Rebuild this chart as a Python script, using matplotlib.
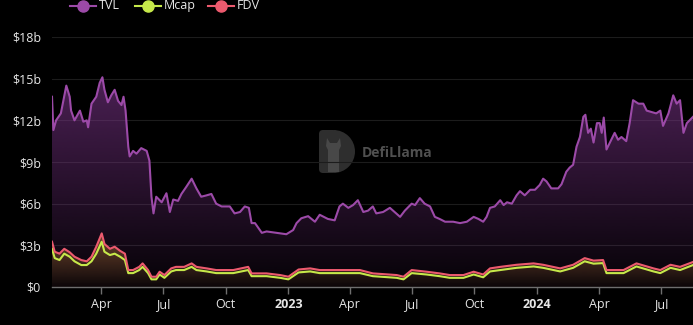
import numpy as np
import pandas as pd
import matplotlib
matplotlib.use("Agg")
import matplotlib.pyplot as plt
import matplotlib.dates as mdates
from matplotlib.patches import Polygon, Wedge, FancyBboxPatch
from matplotlib.colors import to_rgb

plt.rcParams['font.family'] = ['Open Sans', 'DejaVu Sans']

# ---------------- data (values in $ billions) ----------------
tvl_dates = [
    "2022-01-19", "2022-01-21", "2022-01-25", "2022-02-01", "2022-02-09", "2022-02-14", "2022-02-16",
    "2022-02-21", "2022-03-01", "2022-03-06", "2022-03-11", "2022-03-13", "2022-03-18", "2022-03-25",
    "2022-03-30", "2022-04-03", "2022-04-06", "2022-04-11", "2022-04-16", "2022-04-21", "2022-04-26",
    "2022-05-01", "2022-05-04", "2022-05-07", "2022-05-11", "2022-05-13", "2022-05-18", "2022-05-23",
    "2022-05-30", "2022-06-07", "2022-06-11", "2022-06-14", "2022-06-17", "2022-06-21", "2022-06-29",
    "2022-07-06", "2022-07-11", "2022-07-16", "2022-07-23", "2022-07-28", "2022-08-04", "2022-08-12",
    "2022-08-19", "2022-08-26", "2022-09-03", "2022-09-10", "2022-09-17", "2022-09-25", "2022-10-07",
    "2022-10-14", "2022-10-22", "2022-10-29", "2022-11-04", "2022-11-08", "2022-11-13", "2022-11-23",
    "2022-11-30", "2022-12-15", "2022-12-29", "2023-01-08", "2023-01-13", "2023-01-20", "2023-01-30",
    "2023-02-09", "2023-02-16", "2023-02-28", "2023-03-10", "2023-03-17", "2023-03-22", "2023-03-30",
    "2023-04-06", "2023-04-13", "2023-04-21", "2023-04-28", "2023-05-05", "2023-05-10", "2023-05-20",
    "2023-05-30", "2023-06-06", "2023-06-14", "2023-06-21", "2023-07-01", "2023-07-06", "2023-07-13",
    "2023-07-20", "2023-07-28", "2023-08-04", "2023-08-11", "2023-08-19", "2023-08-31", "2023-09-10",
    "2023-09-20", "2023-09-30", "2023-10-07", "2023-10-14", "2023-10-19", "2023-10-24", "2023-10-31",
    "2023-11-08", "2023-11-13", "2023-11-18", "2023-11-25", "2023-12-02", "2023-12-07", "2023-12-14",
    "2023-12-22", "2023-12-29", "2024-01-05", "2024-01-10", "2024-01-15", "2024-01-22", "2024-02-01",
    "2024-02-06", "2024-02-13", "2024-02-18", "2024-02-23", "2024-02-28", "2024-03-04", "2024-03-09",
    "2024-03-12", "2024-03-16", "2024-03-20", "2024-03-24", "2024-03-29", "2024-04-02", "2024-04-05",
    "2024-04-08", "2024-04-12", "2024-04-17", "2024-04-24", "2024-04-29", "2024-05-04", "2024-05-11",
    "2024-05-16", "2024-05-21", "2024-05-29", "2024-06-05", "2024-06-10", "2024-06-17", "2024-06-24",
    "2024-06-30", "2024-07-04", "2024-07-12", "2024-07-19", "2024-07-24", "2024-07-29", "2024-08-03",
    "2024-08-08", "2024-08-13", "2024-08-17",
]
tvl_values = [
    13.7, 11.3, 12.0, 12.5, 14.5, 13.7, 12.7,
    12.0, 12.7, 11.9, 12.0, 11.5, 13.2, 13.7,
    14.7, 15.1, 14.2, 13.3, 13.8, 14.2, 13.4,
    13.1, 13.7, 12.7, 10.1, 9.4, 9.8, 9.6,
    10.0, 9.8, 9.1, 6.5, 5.3, 6.5, 6.1,
    6.75, 5.4, 6.3, 6.2, 6.7, 7.2, 7.8,
    7.1, 6.5, 6.6, 6.7, 6.0, 5.8, 5.8,
    5.3, 5.4, 5.8, 5.7, 4.6, 4.6, 3.9,
    4.0, 3.9, 3.8, 4.1, 4.6, 4.95, 5.1,
    4.7, 5.2, 4.9, 4.8, 5.8, 6.0, 5.7,
    5.9, 6.25, 5.4, 5.5, 5.8, 5.3, 5.4,
    5.7, 5.4, 5.05, 5.5, 6.0, 5.9, 6.4,
    6.0, 5.8, 5.05, 4.9, 4.7, 4.7, 4.6,
    4.7, 5.05, 4.9, 4.7, 5.05, 5.7, 5.8,
    6.25, 5.9, 6.1, 6.0, 6.6, 6.9, 6.6,
    7.0, 7.0, 7.35, 7.8, 7.6, 7.1, 7.1,
    7.4, 8.3, 8.6, 8.8, 10.1, 10.8, 12.25,
    12.4, 11.1, 11.4, 10.4, 11.8, 11.8, 11.1,
    12.2, 9.9, 10.4, 11.1, 10.6, 10.8, 10.5,
    11.8, 13.45, 13.2, 13.2, 12.7, 12.6, 12.5,
    12.7, 11.6, 12.5, 13.8, 13.2, 13.45, 11.1,
    11.8, 12.05, 12.25,
]

tok_dates = [
    "2022-01-19", "2022-01-23", "2022-01-30", "2022-02-06", "2022-02-14", "2022-02-21", "2022-03-03",
    "2022-03-11", "2022-03-18", "2022-03-25", "2022-04-02", "2022-04-06", "2022-04-14", "2022-04-21",
    "2022-04-29", "2022-05-06", "2022-05-11", "2022-05-18", "2022-05-27", "2022-06-01", "2022-06-09",
    "2022-06-14", "2022-06-21", "2022-06-26", "2022-07-03", "2022-07-13", "2022-07-20", "2022-08-01",
    "2022-08-12", "2022-08-19", "2022-09-03", "2022-09-17", "2022-10-12", "2022-11-03", "2022-11-08",
    "2022-11-30", "2022-12-20", "2023-01-01", "2023-01-16", "2023-02-02", "2023-02-16", "2023-03-08",
    "2023-04-01", "2023-04-16", "2023-05-05", "2023-06-09", "2023-06-19", "2023-07-01", "2023-07-23",
    "2023-08-11", "2023-08-26", "2023-09-15", "2023-09-30", "2023-10-14", "2023-10-24", "2023-11-08",
    "2023-12-02", "2023-12-27", "2024-01-10", "2024-02-04", "2024-02-23", "2024-03-11", "2024-03-24",
    "2024-04-07", "2024-04-12", "2024-05-07", "2024-05-26", "2024-06-20", "2024-06-30", "2024-07-15",
    "2024-07-29", "2024-08-17",
]
fdv_values = [
    3.26, 2.54, 2.4, 2.75, 2.5, 2.18, 1.94,
    1.85, 2.18, 2.9, 3.86, 3.1, 2.75, 2.9,
    2.6, 2.4, 1.22, 1.22, 1.45, 1.7, 1.22,
    0.74, 0.74, 1.1, 0.86, 1.34, 1.45, 1.45,
    1.7, 1.45, 1.34, 1.22, 1.22, 1.45, 0.98,
    0.98, 0.86, 0.74, 1.26, 1.34, 1.22, 1.22,
    1.22, 1.22, 0.98, 0.86, 0.74, 1.22, 1.1,
    0.98, 0.86, 0.86, 1.1, 0.9, 1.34, 1.45,
    1.6, 1.7, 1.6, 1.34, 1.6, 2.08, 1.9,
    1.94, 1.22, 1.22, 1.7, 1.34, 1.22, 1.6,
    1.45, 1.8,
]
mcap_values = [
    2.75, 2.08, 1.94, 2.4, 2.18, 1.85, 1.58,
    1.58, 1.85, 2.4, 3.26, 2.54, 2.3, 2.4,
    2.18, 1.94, 1.0, 1.0, 1.22, 1.45, 1.0,
    0.55, 0.55, 0.9, 0.66, 1.12, 1.22, 1.22,
    1.45, 1.22, 1.12, 1.0, 1.0, 1.22, 0.78,
    0.78, 0.66, 0.55, 1.05, 1.12, 1.0, 1.0,
    1.0, 1.0, 0.78, 0.66, 0.55, 1.0, 0.9,
    0.78, 0.66, 0.66, 0.9, 0.7, 1.12, 1.22,
    1.38, 1.48, 1.38, 1.12, 1.38, 1.85, 1.68,
    1.72, 1.0, 1.0, 1.48, 1.12, 1.0, 1.38,
    1.22, 1.58,
]

y_ticks = [0, 3, 6, 9, 12, 15, 18]
y_tick_labels = ["$0", "$3b", "$6b", "$9b", "$12b", "$15b", "$18b"]
x_tick_dates = ["2022-04-01", "2022-07-01", "2022-10-01", "2023-01-01", "2023-04-01",
                "2023-07-01", "2023-10-01", "2024-01-01", "2024-04-01", "2024-07-01"]
x_tick_labels = ["Apr", "Jul", "Oct", "2023", "Apr", "Jul", "Oct", "2024", "Apr", "Jul"]
x_start, x_end = "2022-01-19", "2024-08-17"

series_names = ["TVL", "Mcap", "FDV"]
series_colors = ["#9c4aa8", "#c6e84a", "#ec5a6e"]

# ---------------- figure ----------------
W, H = 693, 325
fig = plt.figure(figsize=(W / 100, H / 100), dpi=100, facecolor="black")

# overlay in pixel coordinates for watermark and legend
ov = fig.add_axes([0, 0, 1, 1], zorder=0)
ov.set_xlim(0, W)
ov.set_ylim(H, 0)
ov.axis("off")
ov.set_facecolor("none")

# watermark logo (D shape) + text
ov.add_patch(FancyBboxPatch((319, 130), 18, 43, boxstyle="round,pad=0,rounding_size=4",
                            facecolor="#2e2e2e", edgecolor="none"))
ov.add_patch(Wedge((333.5, 151.5), 21.5, -90, 90, facecolor="#2e2e2e", edgecolor="none"))
ov.add_patch(Polygon([[328, 172], [328, 150], [326, 146], [327, 138], [330, 143], [337, 143],
                      [340, 138], [341, 146], [339, 150], [339, 172]],
                     closed=True, facecolor="#484848", edgecolor="none"))
ov.text(362, 153, "DefiLlama", color="#505050", fontsize=10, fontweight="bold",
        va="center", ha="left")

# legend
leg_centers = [83, 148, 221]
for name, color, cx in zip(series_names, series_colors, leg_centers):
    ov.plot([cx - 13, cx + 13], [5.5, 5.5], color=color, lw=1.5, clip_on=False)
    ov.plot([cx], [5.5], marker="o", markersize=8, color=color, lw=0, clip_on=False)
    ov.text(cx + 16, 5.5, name, color="#e6e6e6", fontsize=9, va="center", ha="left")

ax = fig.add_axes([52 / W, (H - 287) / H, 1 - 52 / W, (287 - 37) / H], zorder=1)
ax.set_facecolor("none")

tvl_x = mdates.date2num(pd.to_datetime(tvl_dates))
tok_x = mdates.date2num(pd.to_datetime(tok_dates))
tvl_y = np.array(tvl_values)
fdv_y = np.array(fdv_values)
mcap_y = np.array(mcap_values)


def gradient_fill(x, y, color, a_top, a_bot, z):
    rgb = to_rgb(color)
    img = np.zeros((200, 1, 4))
    img[:, :, :3] = rgb
    img[:, :, 3] = np.linspace(a_bot, a_top, 200)[:, None]
    im = ax.imshow(img, aspect="auto", extent=[x.min(), x.max(), 0, y.max()],
                   origin="lower", zorder=z, interpolation="bilinear")
    verts = np.vstack([[x[0], 0], np.column_stack([x, y]), [x[-1], 0]])
    poly = Polygon(verts, closed=True, facecolor="none", edgecolor="none")
    ax.add_patch(poly)
    im.set_clip_path(poly)


gradient_fill(tvl_x, tvl_y, "#7a3488", 0.62, 0.05, 1)
gradient_fill(tok_x, fdv_y, "#8a5a2e", 0.75, 0.05, 2)

ax.plot(tvl_x, tvl_y, color=series_colors[0], lw=1.5, zorder=4)
ax.plot(tok_x, mcap_y, color=series_colors[1], lw=1.5, zorder=5)
ax.plot(tok_x, fdv_y, color=series_colors[2], lw=1.5, zorder=6)

ax.set_xlim(mdates.date2num(pd.Timestamp(x_start)), mdates.date2num(pd.Timestamp(x_end)))
ax.set_ylim(0, 18)

ax.set_yticks(y_ticks)
ax.set_yticklabels(y_tick_labels)
ax.set_xticks(mdates.date2num(pd.to_datetime(x_tick_dates)))
ax.set_xticklabels(x_tick_labels)
for lbl in ax.get_xticklabels():
    if lbl.get_text() in ("2023", "2024"):
        lbl.set_fontweight("bold")

ax.tick_params(axis="y", length=0, pad=8, labelsize=9, labelcolor="#e6e6e6")
ax.tick_params(axis="x", length=5, width=1, color="#6e6e6e", pad=3, labelsize=9,
               labelcolor="#e6e6e6")
ax.grid(axis="y", color="#1c1c1c", lw=0.8, zorder=0)
ax.set_axisbelow(True)
for s in ["top", "right", "left"]:
    ax.spines[s].set_visible(False)
ax.spines["bottom"].set_color("#6e6e6e")
ax.spines["bottom"].set_linewidth(1)
ax.spines["bottom"].set_zorder(7)

fig.savefig("out.png", dpi=100, facecolor="black")
